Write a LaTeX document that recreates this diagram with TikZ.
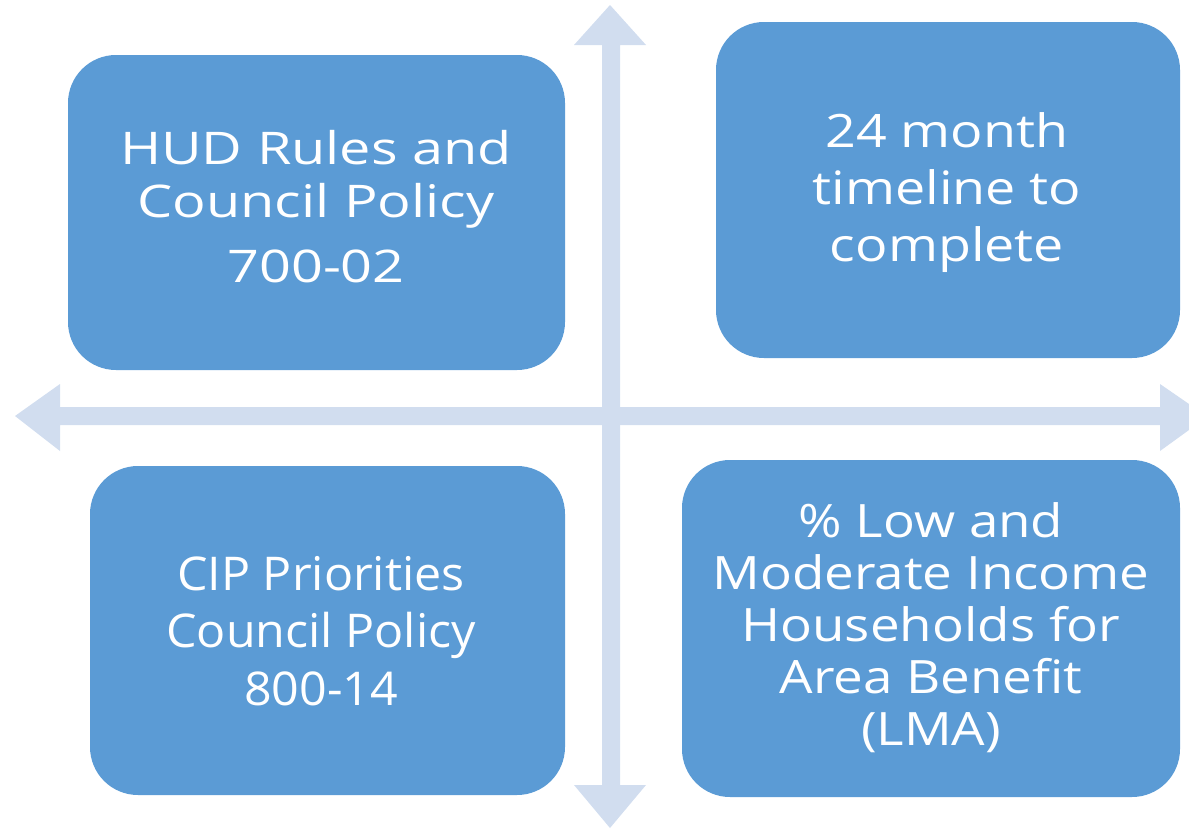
\documentclass[tikz,border=0pt]{standalone}
\usepackage{fontspec}
\setmainfont{Open Sans}
\definecolor{boxblue}{HTML}{5B9BD5}
\definecolor{arrowblue}{HTML}{D1DDEF}
\newcommand{\wideText}[2]{\scalebox{#1}[1]{\begin{tabular}{@{}c@{}}#2\end{tabular}}}
\begin{document}
\begin{tikzpicture}[x=1pt,y=-1pt,
  quad/.style={fill=boxblue, draw=none, rounded corners=48pt},
  lbl/.style={text=white, align=center, inner sep=0pt},
  arr/.style={fill=arrowblue, draw=none}]
\useasboundingbox (0,0) rectangle (1189,830);
% arrows
\fill[arr] (602,45) -- (574,45) -- (610,5) -- (646,45) -- (620,45) -- (620,785) -- (646,785) -- (610,828) -- (574,785) -- (602,785) -- cycle;
\fill[arr] (60,407) -- (60,384) -- (15,416) -- (60,451) -- (60,425) -- (1160,425) -- (1160,451) -- (1189,430) -- (1189,404) -- (1160,384) -- (1160,407) -- cycle;
% boxes
\fill[quad] (68,55) rectangle (565,370);
\fill[quad] (716,22) rectangle (1180,358);
\fill[quad] (90,466) rectangle (565,795);
\fill[quad] (682,460) rectangle (1180,797);
\node[lbl, font=\fontsize{45}{53}\selectfont] (tl) at (316,213) {\wideText{1.24}{HUD Rules and\\Council Policy\\[12pt]700-02}};
\node[lbl, font=\fontsize{46}{57}\selectfont] (tr) at (947,193) {\wideText{1.17}{24 month\\timeline to\\complete}};
\node[lbl, font=\fontsize{46.5}{57.5}\selectfont] (bl) at (321,636) {\wideText{1.04}{CIP Priorities\\Council Policy\\800-14}};
\node[lbl, font=\fontsize{46}{52}\selectfont] (br) at (931,631) {\wideText{1.15}{\% Low and\\Moderate Income\\Households for\\Area Benefit\\(LMA)}};
\end{tikzpicture}
\end{document}
